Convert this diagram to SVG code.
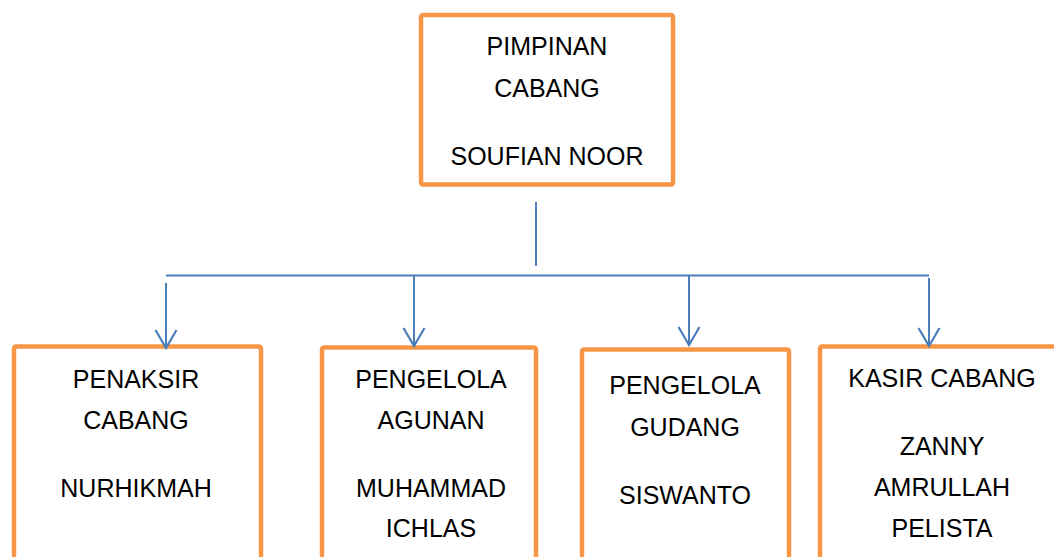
<svg xmlns="http://www.w3.org/2000/svg" width="1054" height="557" viewBox="0 0 1054 557">
<style>
.box{fill:#fff;stroke:#F79646;stroke-width:4.5}
.t{font-family:"Liberation Sans",Arial,sans-serif;font-size:25px;fill:#000;text-anchor:middle}
.c{stroke:#4A7EBB;stroke-width:2;fill:none}
</style>
<defs>
<marker id="arr" viewBox="0 0 24 24" refX="22" refY="12" markerWidth="24" markerHeight="24" markerUnits="userSpaceOnUse" orient="auto">
<path d="M4,1.5 L22,12 L4,22.5" fill="none" stroke="#4A7EBB" stroke-width="2.2"/>
</marker>
</defs>
<rect width="1054" height="557" fill="#fff"/>
<g id="pimpinan">
<rect class="box" x="421" y="15" width="252" height="169.5" rx="2"/>
<text class="t" x="547" y="55">PIMPINAN</text>
<text class="t" x="547" y="97">CABANG</text>
<text class="t" x="547" y="165">SOUFIAN NOOR</text>
</g>
<g id="penaksir">
<rect class="box" x="14" y="346.5" width="247" height="260" rx="2"/>
<text class="t" x="136" y="388">PENAKSIR</text>
<text class="t" x="136" y="429">CABANG</text>
<text class="t" x="136" y="497">NURHIKMAH</text>
</g>
<g id="agunan">
<rect class="box" x="322" y="347.5" width="214" height="260" rx="2"/>
<text class="t" x="431" y="388">PENGELOLA</text>
<text class="t" x="431" y="429">AGUNAN</text>
<text class="t" x="431" y="497">MUHAMMAD</text>
<text class="t" x="431" y="537">ICHLAS</text>
</g>
<g id="gudang">
<rect class="box" x="582" y="349.5" width="207" height="260" rx="2"/>
<text class="t" x="685" y="394">PENGELOLA</text>
<text class="t" x="685" y="436">GUDANG</text>
<text class="t" x="685" y="504">SISWANTO</text>
</g>
<g id="kasir">
<rect class="box" x="820" y="346.5" width="260" height="260" rx="2"/>
<text class="t" x="942" y="387">KASIR CABANG</text>
<text class="t" x="942" y="455">ZANNY</text>
<text class="t" x="942" y="496">AMRULLAH</text>
<text class="t" x="942" y="537">PELISTA</text>
</g>
<g id="connectors">
<line class="c" x1="536" y1="202" x2="536" y2="266"/>
<line class="c" x1="166" y1="275.5" x2="929" y2="275.5"/>
<line class="c" x1="166" y1="283" x2="166" y2="348" marker-end="url(#arr)"/>
<line class="c" x1="414" y1="275.5" x2="414" y2="346" marker-end="url(#arr)"/>
<line class="c" x1="689" y1="275.5" x2="689" y2="345" marker-end="url(#arr)"/>
<line class="c" x1="929" y1="278" x2="929" y2="346" marker-end="url(#arr)"/>
</g>
</svg>
